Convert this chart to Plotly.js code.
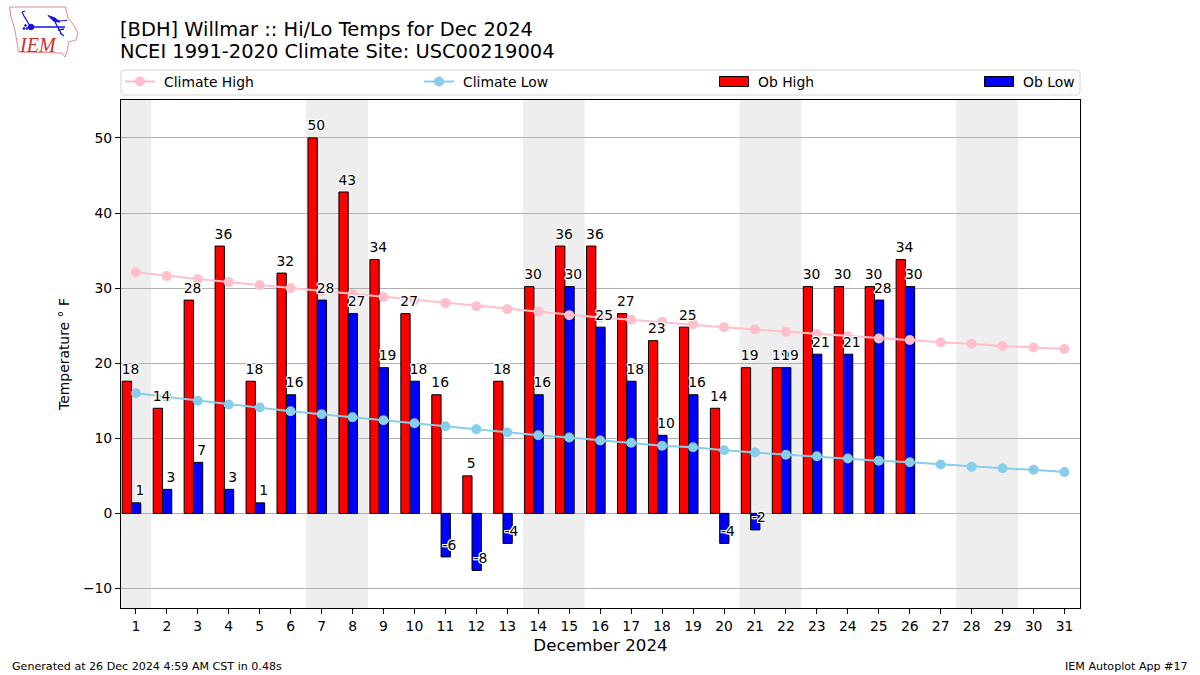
<!DOCTYPE html>
<html><head><meta charset="utf-8">
<script src="https://cdn.plot.ly/plotly-3.0.1.min.js"></script>
<style>html,body{margin:0;padding:0;background:#fff}#c{width:1200px;height:675px}</style>
</head><body><div id="c"></div>
<script>
const days = Array.from({length:31},(_,i)=>i+1);
const obDays = days.slice(0,26);
const obHigh = [17.6,14,28.4,35.6,17.6,32,50,42.8,33.8,26.6,15.8,5,17.6,30.2,35.6,35.6,26.6,23,24.8,14,19.4,19.4,30.2,30.2,30.2,33.8];
const obLow = [1.4,3.2,6.8,3.2,1.4,15.8,28.4,26.6,19.4,17.6,-5.8,-7.6,-4,15.8,30.2,24.8,17.6,10.4,15.8,-4,-2.2,19.4,21.2,21.2,28.4,30.2];
const climateHigh = [32.1,31.6,31.2,30.8,30.4,30,29.6,29.2,28.8,28.4,28,27.6,27.2,26.9,26.4,26.1,25.8,25.5,25.2,24.8,24.5,24.2,23.9,23.6,23.3,23.1,22.8,22.6,22.3,22.1,21.9];
const climateLow = [16,15.5,15,14.5,14.1,13.6,13.2,12.8,12.4,12,11.6,11.2,10.8,10.4,10.1,9.7,9.4,9,8.8,8.4,8.1,7.8,7.6,7.3,7,6.8,6.5,6.2,6,5.8,5.5];
const weekendBands = [[0.52,1.5],[6.5,8.5],[13.5,15.5],[20.5,22.5],[27.5,29.5]];

const PL=121,PR=1080,PT=100,PB=608,W=PR-PL,H=PB-PT;
const px=v=>(v-PL)/W, py=v=>(PB-v)/H;
const FONT='"DejaVu Sans", sans-serif';
const halo='1px 0 0 #fff,-1px 0 0 #fff,0 1px 0 #fff,0 -1px 0 #fff,1px 1px 0 #fff,-1px -1px 0 #fff,1px -1px 0 #fff,-1px 1px 0 #fff';
const labelOffset=1.45;

const traces=[
 {type:'scatter',mode:'lines+markers',name:'Climate High',x:days,y:climateHigh,line:{color:'#ffc0cb',width:2},marker:{color:'#ffc0cb',size:10},legend:'legend',hoverinfo:'skip'},
 {type:'scatter',mode:'lines+markers',name:'Climate Low',x:days,y:climateLow,line:{color:'#87ceeb',width:2},marker:{color:'#87ceeb',size:10},legend:'legend2',hoverinfo:'skip'},
 {type:'bar',name:'Ob High',x:obDays,y:obHigh,width:0.3,offset:-0.44,marker:{color:'#ff0000',line:{color:'#000',width:1}},legend:'legend3',hoverinfo:'skip'},
 {type:'bar',name:'Ob Low',x:obDays,y:obLow,width:0.3,offset:-0.14,marker:{color:'#0000ff',line:{color:'#000',width:1}},legend:'legend4',hoverinfo:'skip'},
 {type:'scatter',mode:'text',showlegend:false,x:obDays.map(d=>d-0.17),y:obHigh.map(v=>v+labelOffset),text:obHigh.map(v=>String(Math.round(v))),textposition:'middle center',textfont:{family:FONT,size:13.9,color:'#000',shadow:halo},hoverinfo:'skip',cliponaxis:false},
 {type:'scatter',mode:'text',showlegend:false,x:obDays.map(d=>d+0.13),y:obLow.map(v=>v+labelOffset),text:obLow.map(v=>String(Math.round(v))),textposition:'middle center',textfont:{family:FONT,size:13.9,color:'#000',shadow:halo},hoverinfo:'skip',cliponaxis:false}
];

const shapes=weekendBands.map(b=>({type:'rect',xref:'x',yref:'paper',x0:b[0],x1:b[1],y0:0,y1:1,fillcolor:'#eeeeee',line:{width:0},layer:'below'}));
const fl=121,fr=1080,ft=70,fb=95,r=3;
const P=(x,y)=>px(x)+','+py(y);
shapes.push({type:'path',xref:'paper',yref:'paper',layer:'above',line:{color:'#d5d5d5',width:1},
 path:'M'+P(fl+r,ft)+' L'+P(fr-r,ft)+' Q'+P(fr,ft)+' '+P(fr,ft+r)+' L'+P(fr,fb-r)+' Q'+P(fr,fb)+' '+P(fr-r,fb)+' L'+P(fl+r,fb)+' Q'+P(fl,fb)+' '+P(fl,fb-r)+' L'+P(fl,ft+r)+' Q'+P(fl,ft)+' '+P(fl+r,ft)+' Z'});

const logoSvg=`<svg xmlns="http://www.w3.org/2000/svg" width="90" height="60" viewBox="0 0 90 60"><path d="M9.5 7 L65.5 7 L68 18 L73 24 L78 33 L76 40 L68.5 42 L67.5 50 L65 57 L62 53 L18.5 52 L15 30 L11 17 Z" fill="none" stroke="#e08a8a" stroke-width="1"/><g stroke="#1414d8" fill="#1414d8"><path d="M31 27 L65 27 M30 26 L24 16 L22 12 M22 12 L25 11 M55 22 L62 35 M58 30 L64 29 M60 33 L64 36" fill="none" stroke-width="1.3"/><circle cx="31" cy="27" r="2.8"/><path d="M48 15.5 L55 18 L60 22 L54 21.5 Z"/><path d="M56 21 L67 20.5" fill="none" stroke-width="1"/><circle cx="24" cy="28.5" r="0.9"/><circle cx="27" cy="28.5" r="0.9"/><circle cx="25.5" cy="25.5" r="0.9"/></g></svg>`;

const leg=(left)=>({x:px(left),y:py(82),xanchor:'left',yanchor:'middle',orientation:'h',bgcolor:'rgba(0,0,0,0)',borderwidth:0,font:{family:FONT,size:13.9,color:'#000'},itemwidth:30,tracegroupgap:0});

const annos=[
 {xref:'paper',yref:'paper',x:px(37.5),y:py(45),text:'<i>IEM</i>',showarrow:false,font:{family:'"Liberation Serif", serif',size:20,color:'#d0302c'},xanchor:'center',yanchor:'middle'},
 {xref:'paper',yref:'paper',x:px(10),y:py(666),text:'Generated at 26 Dec 2024 4:59 AM CST in 0.48s',showarrow:false,font:{family:FONT,size:11.1,color:'#000'},xanchor:'left',yanchor:'middle'},
 {xref:'paper',yref:'paper',x:px(1190),y:py(666),text:'IEM Autoplot App #17',showarrow:false,font:{family:FONT,size:11.1,color:'#000'},xanchor:'right',yanchor:'middle'}
];

const layout={
 width:1200,height:675,paper_bgcolor:'#fff',plot_bgcolor:'#fff',
 margin:{l:PL,r:1200-PR,t:PT,b:675-PB,pad:0},
 font:{family:FONT,color:'#000'},
 barmode:'overlay',
 title:{text:'[BDH] Willmar :: Hi/Lo Temps for Dec 2024<br>NCEI 1991-2020 Climate Site: USC00219004',xref:'container',x:120/1200,xanchor:'left',yref:'container',y:1-36/675,yanchor:'top',font:{family:FONT,size:19.45,color:'#000'}},
 xaxis:{range:[0.52,31.5],tickmode:'array',tickvals:days,ticktext:days.map(String),ticks:'outside',ticklen:5,tickwidth:1,tickcolor:'#000',showgrid:false,zeroline:false,showline:true,mirror:true,linecolor:'#000',linewidth:1,tickfont:{family:FONT,size:13.9,color:'#000'},title:{text:'December 2024',font:{family:FONT,size:16.7,color:'#000'},standoff:6},automargin:false},
 yaxis:{range:[-12.6,55.05],dtick:10,tick0:0,ticks:'outside',ticklen:5,tickwidth:1,tickcolor:'#000',showgrid:true,gridcolor:'#b0b0b0',gridwidth:1,zeroline:false,showline:true,mirror:true,linecolor:'#000',linewidth:1,tickfont:{family:FONT,size:13.9,color:'#000'},title:{text:'Temperature ° F',font:{family:FONT,size:13.9,color:'#000'},standoff:10},automargin:false},
 shapes:shapes,annotations:annos,showlegend:true,
 legend:leg(120),legend2:leg(419),legend3:leg(714),legend4:leg(979),
 images:[{source:'data:image/svg+xml;utf8,'+encodeURIComponent(logoSvg),xref:'paper',yref:'paper',x:px(0),y:py(0),sizex:90/W,sizey:60/H,xanchor:'left',yanchor:'top',sizing:'stretch',layer:'above'}]
};
const gd=document.getElementById('c');
function polish(){
 const lines=document.querySelectorAll('.gtitle tspan.line');
 if(lines[1]) lines[1].setAttribute('dy','1.134em');
 document.querySelectorAll('.legendpoints path.legendundefined').forEach(p=>p.setAttribute('d','M14.5,5H-14.5V-5H14.5Z'));
 document.querySelectorAll('text.legendtext,text.legend2text,text.legend3text,text.legend4text').forEach(t=>t.setAttribute('x','44'));
}
Plotly.newPlot(gd,traces,layout,{displayModeBar:false,staticPlot:true}).then(()=>{
 polish();
 gd.on('plotly_afterplot',polish);
 setTimeout(polish,50);
});
</script></body></html>
